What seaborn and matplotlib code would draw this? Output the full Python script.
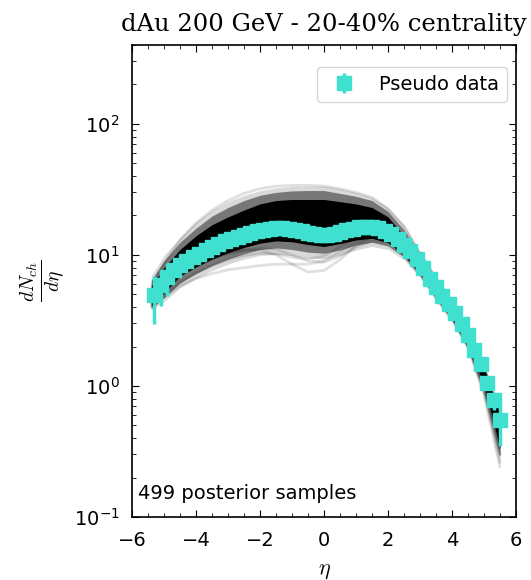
import numpy as np
import pandas as pd
import matplotlib
matplotlib.use("Agg")
import matplotlib.pyplot as plt
import seaborn as sns

# ── pseudo data ─────────────────────────────────────────────────────────────
eta_data = [-5.3, -5.1, -4.9, -4.7, -4.5, -4.3, -4.1, -3.9, -3.7, -3.5, -3.3,
            -3.1, -2.9, -2.7, -2.5, -2.3, -2.1, -1.9, -1.7, -1.5, -1.3, -1.1,
            -0.9, -0.7, -0.5, -0.3, -0.1, 0.1, 0.3, 0.5, 0.7, 0.9, 1.1, 1.3,
            1.5, 1.7, 1.9, 2.1, 2.3, 2.5, 2.7, 2.9, 3.1, 3.3, 3.5, 3.7, 3.9,
            4.1, 4.3, 4.5, 4.7, 4.9, 5.1, 5.3, 5.5]
dndeta_data = [4.95, 5.9, 6.8, 7.7, 8.4, 9.0, 9.6, 10.2, 10.9, 11.5, 12.1,
               12.7, 13.2, 13.7, 14.2, 14.7, 15.2, 15.6, 15.9, 16.0, 16.0, 15.8,
               15.5, 15.2, 14.8, 14.4, 14.2, 14.2, 14.5, 15.0, 15.5, 15.9, 16.2, 16.4,
               16.4, 16.1, 15.2, 14.4, 13.2, 11.9, 10.7, 9.3, 7.9, 6.55, 5.7, 4.86, 4.23,
               3.6, 2.97, 2.45, 1.88, 1.47, 1.05, 0.78, 0.55]
dndeta_err = [2.0, 1.8, 1.9, 0.9, 0.9, 1.0, 1.0, 1.1, 1.1, 1.2, 1.2,
              1.3, 1.3, 1.4, 1.4, 1.5, 1.5, 1.6, 1.6, 1.6, 1.6, 1.6,
              1.6, 1.5, 1.5, 1.4, 1.4, 1.4, 1.4, 1.5, 1.5, 1.6, 1.6, 1.6,
              1.6, 1.6, 1.5, 1.4, 1.3, 1.2, 1.1, 0.9, 0.8, 0.66, 0.57, 0.49, 0.42,
              0.36, 0.30, 0.25, 0.19, 0.15, 0.12, 0.12, 0.20]

# ── posterior sample envelopes (dense core, mid shade, faint halo) ──────────
eta_nodes = [-5.4, -5.0, -4.5, -4.0, -3.5, -3.0, -2.5, -2.0, -1.5, -1.0, -0.5,
             0.0, 0.5, 1.0, 1.5, 2.0, 2.5, 3.0, 3.5, 4.0, 4.5, 5.0, 5.5]
core_hi = [5.8, 8.0, 11.0, 14.0, 17.0, 19.5, 22.0, 24.5, 26.0, 26.5, 26.5,
           26.5, 25.5, 24.5, 23.0, 19.5, 14.0, 9.6, 6.3, 4.25, 2.65, 1.38, 0.61]
core_lo = [4.1, 5.1, 6.9, 8.1, 9.3, 10.4, 11.4, 12.3, 12.8, 12.6, 12.0,
           11.6, 12.2, 13.0, 13.4, 12.4, 10.0, 7.2, 4.85, 3.3, 2.05, 1.02, 0.33]
mid_hi = [6.4, 9.0, 12.5, 16.0, 19.8, 23.0, 26.0, 28.5, 30.0, 30.8, 31.0,
          31.0, 29.5, 28.0, 26.0, 21.5, 15.5, 10.1, 6.6, 4.4, 2.75, 1.43, 0.64]
mid_lo = [3.9, 4.7, 6.1, 7.2, 8.3, 9.3, 10.2, 11.0, 11.3, 11.0, 10.5,
          10.3, 10.9, 11.9, 12.5, 11.7, 9.6, 6.9, 4.6, 3.15, 1.92, 0.9, 0.29]
halo_hi = [6.9, 9.9, 13.6, 17.8, 22.0, 25.5, 28.5, 31.0, 32.5, 33.5, 33.5,
           33.5, 32.0, 30.0, 27.5, 23.0, 17.0, 10.6, 6.9, 4.55, 2.85, 1.48, 0.66]
halo_lo = [3.8, 4.4, 5.6, 6.6, 7.6, 8.5, 9.3, 9.9, 10.1, 9.9, 9.5,
           9.3, 9.9, 10.9, 11.6, 11.0, 9.2, 6.7, 4.45, 3.05, 1.85, 0.83, 0.26]

# a few individual outlying samples
sample_a = [4.0, 4.8, 5.8, 6.6, 7.2, 7.7, 8.0, 8.3, 8.5, 8.5, 8.5,
            9.0, 10.5, 12.5, 13.8, 13.2, 10.8, 7.9, 5.2, 3.5, 2.1, 0.95, 0.30]
sample_b = [4.3, 5.4, 6.9, 8.2, 9.3, 10.2, 10.8, 10.9, 10.0, 8.5, 7.4,
            7.6, 9.2, 11.8, 13.6, 13.6, 11.2, 8.2, 5.4, 3.6, 2.2, 1.0, 0.30]
sample_c = [4.5, 5.7, 7.3, 8.6, 9.6, 10.4, 10.9, 11.2, 11.0, 10.0, 9.0,
            8.8, 9.8, 11.5, 12.8, 12.7, 10.6, 7.8, 5.2, 3.4, 2.05, 0.92, 0.26]
sample_d = [5.8, 8.6, 13.0, 17.5, 22.0, 26.0, 29.5, 32.0, 33.5, 34.0, 34.0,
            33.5, 32.0, 30.0, 27.5, 22.5, 16.5, 10.4, 6.6, 4.4, 2.75, 1.4, 0.60]
sample_e = [4.1, 5.0, 6.2, 7.3, 8.3, 9.2, 9.9, 10.3, 10.2, 9.6, 9.3,
            9.8, 11.5, 13.3, 14.3, 13.5, 11.0, 7.9, 5.2, 3.4, 2.0, 0.85, 0.24]

n_samples = 499

sns.set_style("ticks")
plt.rcParams.update({
    "text.color": "black", "axes.labelcolor": "black",
    "xtick.color": "black", "ytick.color": "black",
    "xtick.direction": "in", "ytick.direction": "in",
    "xtick.top": True, "ytick.right": True,
    "xtick.major.size": 5, "ytick.major.size": 5,
    "xtick.minor.size": 3, "ytick.minor.size": 3,
    "xtick.major.pad": 10, "ytick.major.pad": 9,
    "xtick.labelsize": 14, "ytick.labelsize": 14,
    "axes.edgecolor": "black", "axes.linewidth": 1.2,
})

fig = plt.figure(figsize=(5.31, 5.8), dpi=100)
ax = fig.add_axes([132 / 531, 63 / 580, 384 / 531, 472 / 580])
ax.set_yscale("log")

ax.fill_between(eta_nodes, halo_lo, halo_hi, color="black", alpha=0.15, lw=0)
ax.fill_between(eta_nodes, mid_lo, mid_hi, color="black", alpha=0.45, lw=0)
ax.fill_between(eta_nodes, core_lo, core_hi, color="black", lw=0)

samples = pd.DataFrame({
    "eta": eta_nodes * 5,
    "dndeta": sample_a + sample_b + sample_c + sample_d + sample_e,
    "sample": np.repeat(["a", "b", "c", "d", "e"], len(eta_nodes)),
})
sns.lineplot(data=samples, x="eta", y="dndeta", units="sample", estimator=None,
             color="black", alpha=0.12, lw=2, legend=False, ax=ax)

ax.errorbar(eta_data, dndeta_data, yerr=dndeta_err, fmt="s", color="turquoise",
            markersize=10, elinewidth=2.5, capsize=0, label="Pseudo data", zorder=5)

ax.set_xlim(-6, 6)
ax.set_ylim(0.1, 400)
ax.xaxis.set_minor_locator(matplotlib.ticker.MultipleLocator(0.5))
ax.tick_params(which="both", top=True, right=True)

ax.set_xlabel(r"$\eta$", fontsize=16, math_fontfamily="cm", labelpad=8)
ax.set_ylabel(r"$\frac{dN_{ch}}{d\eta}$", fontsize=20, math_fontfamily="cm", labelpad=4)
ax.set_title("dAu 200 GeV - 20-40% centrality", fontsize=17.5, family="DejaVu Serif",
             pad=10)
ax.text(0.015, 0.03, f"{n_samples} posterior samples", transform=ax.transAxes,
        fontsize=14, va="bottom", ha="left")
ax.legend(loc="upper right", fontsize=14, bbox_to_anchor=(0.977, 0.953),
          borderaxespad=0)

fig.savefig("out.png", dpi=100)
